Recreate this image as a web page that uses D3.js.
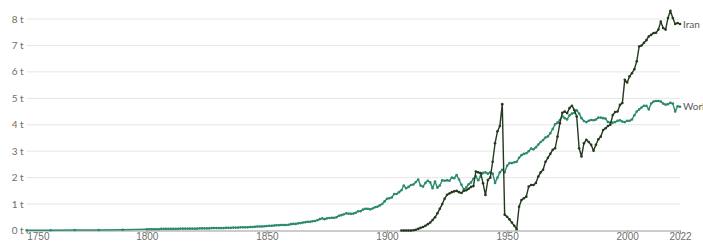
<!DOCTYPE html>
<html>
<head>
<meta charset="utf-8">
<script src="https://cdn.jsdelivr.net/npm/d3@7"></script>
<style>
  body { margin: 0; background: #fff; }
  svg { font-family: Lato, "Open Sans", sans-serif; }
  .tickLabel { fill: #6e6e6e; font-size: 10px; }
  .seriesLabel { fill: #5a5a5a; font-size: 10px; }
</style>
</head>
<body>
<div id="chart"></div>
<script>
//years with a world value before the yearly data begins
var worldEarlyYears = [1750, 1760, 1770, 1780, 1790];
var worldEarlyValues = [0.01, 0.01, 0.02, 0.02, 0.03];

//yearly world values (t per person), 1800 to 2022
var worldStart = 1800;
var worldValues = [
  0.05, 0.05, 0.05, 0.05, 0.05, 0.05, 0.06, 0.06, 0.06, 0.06,
  0.06, 0.06, 0.06, 0.06, 0.07, 0.07, 0.07, 0.07, 0.07, 0.07,
  0.07, 0.07, 0.08, 0.08, 0.08, 0.08, 0.08, 0.09, 0.09, 0.09,
  0.09, 0.09, 0.09, 0.10, 0.10, 0.10, 0.11, 0.11, 0.11, 0.12,
  0.12, 0.12, 0.12, 0.13, 0.13, 0.14, 0.15, 0.15, 0.15, 0.16,
  0.17, 0.18, 0.18, 0.19, 0.20, 0.20, 0.21, 0.21, 0.21, 0.22,
  0.24, 0.25, 0.25, 0.27, 0.28, 0.30, 0.31, 0.33, 0.33, 0.35,
  0.36, 0.39, 0.43, 0.46, 0.43, 0.46, 0.47, 0.48, 0.48, 0.50,
  0.56, 0.58, 0.61, 0.65, 0.64, 0.63, 0.64, 0.67, 0.73, 0.73,
  0.79, 0.82, 0.82, 0.80, 0.83, 0.88, 0.90, 0.95, 1.00, 1.10,
  1.20, 1.22, 1.25, 1.38, 1.38, 1.45, 1.52, 1.70, 1.60, 1.65,
  1.72, 1.74, 1.83, 1.93, 1.70, 1.66, 1.80, 1.88, 1.82, 1.60,
  1.85, 1.62, 1.70, 1.90, 1.88, 1.90, 1.88, 2.00, 1.98, 2.10,
  1.93, 1.73, 1.55, 1.63, 1.75, 1.82, 1.96, 2.05, 1.90, 2.05,
  2.18, 2.20, 2.15, 2.20, 2.15, 1.80, 2.00, 2.20, 2.30, 2.20,
  2.45, 2.55, 2.55, 2.58, 2.60, 2.75, 2.85, 2.90, 2.92, 3.00,
  3.10, 3.07, 3.15, 3.25, 3.35, 3.42, 3.52, 3.56, 3.68, 3.84,
  4.02, 4.08, 4.18, 4.33, 4.25, 4.20, 4.36, 4.42, 4.45, 4.55,
  4.42, 4.25, 4.14, 4.10, 4.15, 4.18, 4.17, 4.20, 4.27, 4.27,
  4.25, 4.23, 4.10, 4.08, 4.08, 4.10, 4.15, 4.17, 4.12, 4.10,
  4.15, 4.15, 4.20, 4.36, 4.50, 4.58, 4.65, 4.72, 4.72, 4.58,
  4.80, 4.88, 4.90, 4.90, 4.88, 4.80, 4.76, 4.78, 4.83, 4.80,
  4.50, 4.70, 4.68
];

//yearly Iran values (t per person), 1906 to 2022
var iranStart = 1906;
var iranValues = [
  0.00, 0.00, 0.00, 0.00, 0.00, 0.01, 0.03, 0.06, 0.10, 0.13,
  0.18, 0.24, 0.30, 0.40, 0.50, 0.65, 0.82, 1.00, 1.20, 1.35,
  1.40, 1.45, 1.48, 1.50, 1.45, 1.42, 1.50, 1.52, 1.58, 1.65,
  1.68, 2.23, 2.20, 2.17, 1.79, 1.34, 1.91, 2.00, 2.60, 3.30,
  3.75, 3.95, 4.78, 0.60, 0.52, 0.42, 0.30, 0.18, 0.05, 0.90,
  1.15, 1.22, 1.28, 1.66, 1.72, 1.72, 1.80, 2.04, 2.20, 2.30,
  2.60, 2.75, 2.90, 3.05, 3.11, 3.55, 4.06, 4.45, 4.50, 4.44,
  4.63, 4.72, 4.56, 4.31, 3.11, 2.80, 3.30, 3.43, 3.35, 3.24,
  3.02, 3.24, 3.45, 3.55, 3.80, 3.87, 3.95, 4.00, 4.37, 4.48,
  4.50, 4.75, 4.82, 5.70, 5.60, 5.83, 5.95, 6.10, 6.40, 6.96,
  7.00, 7.10, 7.20, 7.34, 7.40, 7.47, 7.48, 7.60, 7.90, 7.66,
  7.60, 8.04, 8.31, 8.04, 7.81, 7.85, 7.81
];

//axis ticks
var xTickYears = [1750, 1800, 1850, 1900, 1950, 2000, 2022];
var yTickValues = [0, 1, 2, 3, 4, 5, 6, 7, 8];

//colours of the two lines
var worldColor = "#2b8a6e";
var iranColor = "#24391f";

//svg size and margins
var svgWidth = 703;
var svgHeight = 243;
var margin = {top: 19, right: 23, bottom: 12.5, left: 26.7};

//build the point lists from the arrays
var worldData = worldEarlyYears.map((y, i) => ({year: y, value: worldEarlyValues[i]}))
  .concat(worldValues.map((v, i) => ({year: worldStart + i, value: v})));
var iranData = iranValues.map((v, i) => ({year: iranStart + i, value: v}));

var svg = d3.select("#chart").append("svg")
  .attr("width", svgWidth)
  .attr("height", svgHeight);

var xScale = d3.scaleLinear()
  .domain([1750, 2022])
  .range([margin.left, svgWidth - margin.right]);

var yScale = d3.scaleLinear()
  .domain([0, 8])
  .range([svgHeight - margin.bottom, margin.top]);

//horizontal grid lines, with the value labels at the left
var grid = svg.append("g").attr("class", "grid");
grid.selectAll("line")
  .data(yTickValues.filter(d => d > 0))
  .enter().append("line")
  .attr("x1", xScale(1750))
  .attr("x2", xScale(2022))
  .attr("y1", d => yScale(d))
  .attr("y2", d => yScale(d))
  .attr("stroke", "#e6e6e6")
  .attr("stroke-width", 1);

grid.selectAll("text")
  .data(yTickValues)
  .enter().append("text")
  .attr("class", "tickLabel")
  .attr("x", xScale(1750) - 3)
  .attr("y", d => yScale(d))
  .attr("dy", "0.35em")
  .attr("text-anchor", "end")
  .text(d => d + " t");

//bottom axis: baseline, small ticks and year labels
var xAxis = d3.axisBottom(xScale)
  .tickValues(xTickYears)
  .tickFormat(d3.format("d"))
  .tickSize(3)
  .tickPadding(0);

var xAxisGroup = svg.append("g")
  .attr("transform", `translate(0, ${yScale(0)})`)
  .call(xAxis);
xAxisGroup.select(".domain").attr("stroke", "#999");
xAxisGroup.selectAll(".tick line").attr("stroke", "#999");
xAxisGroup.selectAll(".tick text")
  .attr("class", "tickLabel")
  .attr("fill", null)
  .style("font-size", "10px")
  .attr("dy", "0.68em")
  .attr("text-anchor", d => d === 1750 ? "start" : "middle");

//line generator shared by both series
var line = d3.line()
  .x(d => xScale(d.year))
  .y(d => yScale(d.value));

function drawSeries(data, color) {
  var g = svg.append("g");
  g.append("path")
    .datum(data)
    .attr("fill", "none")
    .attr("stroke", color)
    .attr("stroke-width", 1.4)
    .attr("stroke-linejoin", "round")
    .attr("d", line);
  g.selectAll("circle")
    .data(data)
    .enter().append("circle")
    .attr("cx", d => xScale(d.year))
    .attr("cy", d => yScale(d.value))
    .attr("r", 1.3)
    .attr("fill", color);
}

drawSeries(worldData, worldColor);
drawSeries(iranData, iranColor);

//labels at the end of each line
var lastWorld = worldData[worldData.length - 1];
var lastIran = iranData[iranData.length - 1];
svg.append("text")
  .attr("class", "seriesLabel")
  .attr("x", xScale(2022) + 3)
  .attr("y", yScale(lastIran.value))
  .attr("dy", "0.35em")
  .text("Iran");
svg.append("text")
  .attr("class", "seriesLabel")
  .attr("x", xScale(2022) + 3)
  .attr("y", yScale(lastWorld.value))
  .attr("dy", "0.35em")
  .text("World");
</script>
</body>
</html>
